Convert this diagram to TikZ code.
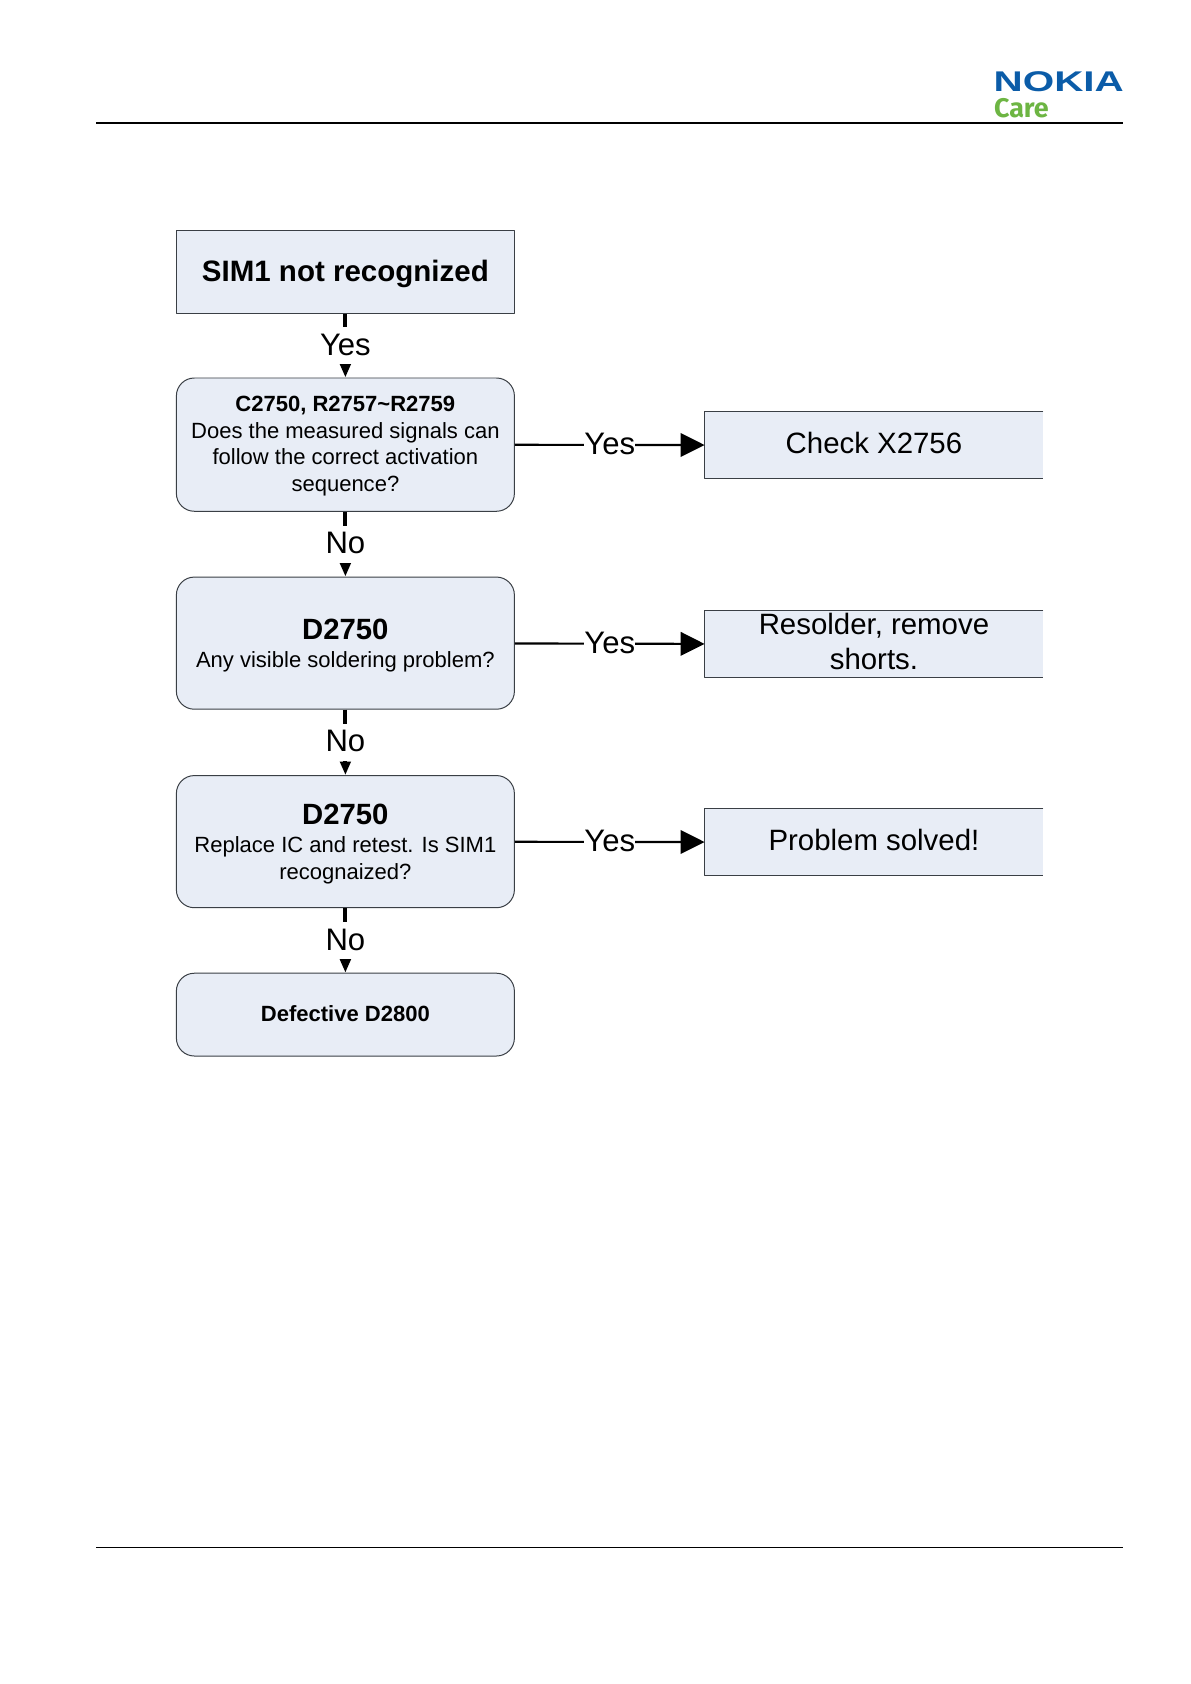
\documentclass[tikz,border=0pt]{standalone}
\usepackage{fontspec}
\setmainfont{Liberation Sans}
\newfontfamily\carefont{Fira Sans}
\usetikzlibrary{arrows.meta,calc}
\definecolor{boxfill}{HTML}{E8EDF6}
\definecolor{boxline}{HTML}{3A3F45}
\definecolor{nokiablue}{HTML}{0B5CA8}
\definecolor{caregreen}{HTML}{6DB543}
\newcommand{\titlefont}{\fontsize{14.7}{17}\selectfont\bfseries}
\tikzset{
  roundbox/.style={draw=boxline,fill=boxfill,line width=0.5pt,rounded corners=9pt,minimum width=5.96cm,align=center,inner sep=0pt,font=\fontsize{11.05}{13.25}\selectfont},
  startbox/.style={draw=boxline,fill=boxfill,line width=0.5pt,minimum width=5.96cm,minimum height=1.46cm,inner sep=0pt,text height=12.8pt,text depth=3pt,font=\fontsize{14.8}{17}\selectfont\bfseries},
  resultbox/.style={fill=boxfill,minimum width=5.96cm,minimum height=1.17cm,align=center,inner sep=0pt,font=\fontsize{14.75}{17.6}\selectfont},
  resultedge/.style={draw=boxline,line width=0.6pt},
  downline/.style={line width=2pt,-{Triangle[length=6.8pt,width=5.2pt]}},
  sideline/.style={line width=1.1pt,-{Triangle[length=12pt,width=11.8pt]}},
  downlabel/.style={fill=white,inner sep=0pt,minimum width=18pt,text height=14pt,text depth=4.4pt,font=\fontsize{15.6}{17}\selectfont},
  sidelabel/.style={fill=white,inner sep=0pt,text height=11pt,text depth=1.5pt,font=\fontsize{15.6}{17}\selectfont}
}
\begin{document}
\begin{tikzpicture}[line cap=butt,line join=round,x=1.0cm,y=1.0cm]
\useasboundingbox (0,0) rectangle (21,-29.693);
% header and footer
\coordinate (headl) at (1.70,-2.168);
\coordinate (headr) at (19.80,-2.168);
\coordinate (footl) at (1.70,-27.29);
\coordinate (footr) at (19.80,-27.29);
\draw [line width=0.75pt] (headl) -- (headr);
\draw [line width=0.75pt] (footl) -- (footr);
\node (nokia) [anchor=south west,inner sep=0pt,text=nokiablue,font=\fontsize{14.3}{16}\selectfont\bfseries,xscale=1.418] at (17.51,-1.62) {NOKIA};
\node (care) [anchor=south west,inner sep=0pt,text=caregreen,font=\fontsize{13.5}{16}\carefont\bfseries] at (17.52,-2.09) {Care};
% left column
\node (sim) [startbox] at (6.09,-4.79) {SIM1 not recognized};
\node (signals) [roundbox,minimum height=2.35cm] at (6.09,-7.84) {\rule{0pt}{9.2pt}\textbf{C2750, R2757\textasciitilde R2759}\\Does the measured signals can\\follow the correct activation\\sequence?};
\node (solder) [roundbox,minimum height=2.33cm] at (6.09,-11.34) {\rule{0pt}{13pt}{\titlefont D2750}\\[0.8pt]Any visible soldering problem?};
\node (replace) [roundbox,minimum height=2.33cm] at (6.09,-14.84) {\rule{0pt}{12.6pt}{\titlefont D2750}\\[0.8pt]Replace IC and retest. Is SIM1\\recognaized?};
\node (defect) [roundbox,minimum height=1.46cm] at (6.09,-17.89) {\textbf{Defective D2800}\rule[-1.5pt]{0pt}{0pt}};
% right column
\node (check) [resultbox] at (15.41,-7.85) {Check X2756\rule[-2.6pt]{0pt}{0pt}};
\node (resolder) [resultbox] at (15.41,-11.36) {Resolder, remove\\shorts.\rule[-3pt]{0pt}{0pt}};
\node (solved) [resultbox] at (15.41,-14.85) {Problem solved!\rule[-2.6pt]{0pt}{0pt}};
\foreach \res in {check,resolder,solved}
  \draw [resultedge] (\res.north east) -- (\res.north west) -- (\res.south west) -- (\res.south east);
% connectors
\draw [downline] (sim) -- node[downlabel] {Yes} (signals);
\draw [downline] (signals) -- node[downlabel] {No} (solder);
\draw [downline] (solder) -- node[downlabel] {No} (replace);
\draw [downline] (replace) -- node[downlabel] {No} (defect);
\draw [sideline] (signals) -- node[sidelabel] {Yes} (check);
\draw [sideline] (solder) -- node[sidelabel] {Yes} (resolder);
\draw [sideline] (replace) -- node[sidelabel] {Yes} (solved);
\end{tikzpicture}
\end{document}
